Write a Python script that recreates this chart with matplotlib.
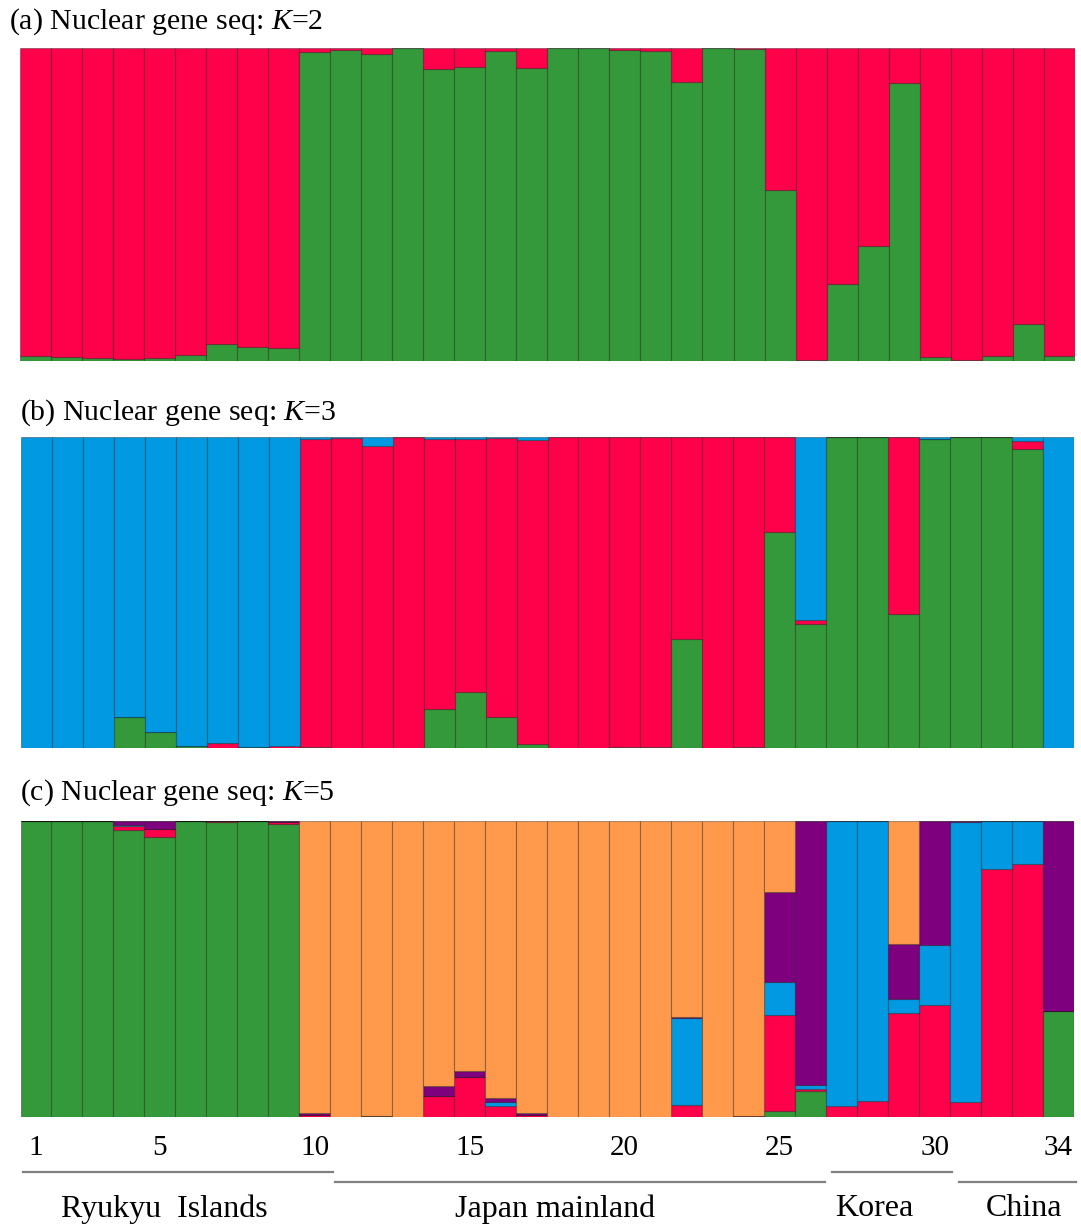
import numpy as np
import matplotlib
matplotlib.use("Agg")
import matplotlib.pyplot as plt

# Individuals 1..34 and their ancestry proportions per cluster
individuals = np.arange(1, 35)

# K=2 (stacked bottom -> top: green, red)
a_green = [0.016, 0.014, 0.008, 0.005, 0.010, 0.018, 0.053, 0.045, 0.040,
           0.987, 0.995, 0.980, 1.000, 0.934, 0.940, 0.992, 0.936,
           1.000, 1.000, 0.995, 0.992, 0.890, 1.000, 0.997, 0.545, 0.003,
           0.247, 0.367, 0.888, 0.013, 0.002, 0.016, 0.117, 0.016]
a_red = [0.984, 0.986, 0.992, 0.995, 0.990, 0.982, 0.947, 0.955, 0.960,
         0.013, 0.005, 0.020, 0.000, 0.066, 0.060, 0.008, 0.064,
         0.000, 0.000, 0.005, 0.008, 0.110, 0.000, 0.003, 0.455, 0.997,
         0.753, 0.633, 0.112, 0.987, 0.998, 0.984, 0.883, 0.984]

# K=3 (bottom -> top: green, red, blue)
b_green = [0, 0, 0, 0.100, 0.050, 0.007, 0, 0.004, 0,
           0.003, 0, 0, 0, 0.127, 0.180, 0.100, 0.013,
           0, 0, 0.003, 0.004, 0.352, 0, 0.002, 0.693, 0.400,
           1.000, 1.000, 0.430, 0.995, 1.000, 1.000, 0.960, 0]
b_red = [0, 0, 0, 0, 0, 0, 0.015, 0, 0.005,
         0.992, 0.997, 0.970, 1.000, 0.868, 0.815, 0.897, 0.977,
         1.000, 1.000, 0.997, 0.996, 0.648, 1.000, 0.998, 0.307, 0.010,
         0, 0, 0.570, 0, 0, 0, 0.027, 0]
b_blue = [1.000, 1.000, 1.000, 0.900, 0.950, 0.993, 0.985, 0.996, 0.995,
          0.005, 0.003, 0.030, 0, 0.005, 0.005, 0.003, 0.010,
          0, 0, 0, 0, 0, 0, 0, 0, 0.590,
          0, 0, 0, 0.005, 0, 0, 0.013, 1.000]

# K=5 (bottom -> top: green, red, blue, purple, orange)
c_green = [1.000, 1.000, 1.000, 0.971, 0.947, 1.000, 0.997, 1.000, 0.989,
           0, 0, 0.004, 0, 0, 0, 0, 0,
           0, 0, 0, 0, 0, 0, 0, 0.021, 0.087,
           0, 0, 0, 0, 0, 0, 0, 0.357]
c_red = [0, 0, 0, 0.013, 0.025, 0, 0.002, 0, 0.006,
         0.008, 0, 0, 0, 0.070, 0.134, 0.036, 0.006,
         0, 0, 0, 0, 0.040, 0, 0.003, 0.322, 0.006,
         0.036, 0.053, 0.352, 0.377, 0.050, 0.837, 0.856, 0]
c_blue = [0, 0, 0, 0.004, 0, 0, 0, 0, 0,
          0, 0, 0, 0, 0, 0, 0.015, 0,
          0, 0, 0, 0, 0.293, 0, 0, 0.113, 0.015,
          0.964, 0.947, 0.048, 0.204, 0.945, 0.163, 0.144, 0]
c_purple = [0, 0, 0, 0.012, 0.028, 0, 0.001, 0, 0.005,
            0.005, 0, 0, 0, 0.034, 0.023, 0.013, 0.008,
            0, 0, 0, 0, 0.006, 0, 0, 0.303, 0.892,
            0, 0, 0.183, 0.419, 0.005, 0, 0, 0.643]
c_orange = [0, 0, 0, 0, 0, 0, 0, 0, 0,
            0.987, 1.000, 0.996, 1.000, 0.896, 0.843, 0.936, 0.986,
            1.000, 1.000, 1.000, 1.000, 0.661, 1.000, 0.997, 0.241, 0,
            0, 0, 0.417, 0, 0, 0, 0, 0]

tick_labels = ["1", "5", "10", "15", "20", "25", "30", "34"]
tick_positions = [1, 5, 10, 15, 20, 25, 30, 34]

group_names = ["Ryukyu  Islands", "Japan mainland", "Korea", "China"]
group_first = [1, 11, 27, 31]
group_last = [10, 26, 30, 34]

GREEN = "#33993a"
RED = "#ff004b"
BLUE = "#0099e2"
PURPLE = "#7f007f"
ORANGE = "#ff9a4c"

panels = [
    ("(a) Nuclear gene seq: ", "2", [a_green, a_red], [GREEN, RED]),
    ("(b) Nuclear gene seq: ", "3", [b_green, b_red, b_blue], [GREEN, RED, BLUE]),
    ("(c) Nuclear gene seq: ", "5", [c_green, c_red, c_blue, c_purple, c_orange],
     [GREEN, RED, BLUE, PURPLE, ORANGE]),
]

plt.rcParams["font.family"] = ["Liberation Serif", "DejaVu Serif"]
plt.rcParams["mathtext.fontset"] = "custom"
plt.rcParams["mathtext.rm"] = "Liberation Serif"
plt.rcParams["mathtext.it"] = "Liberation Serif:italic"

W, H = 1081, 1230
fig = plt.figure(figsize=(W / 100, H / 100), dpi=100)

# panel boxes in pixels: left, top, right, bottom
boxes = [(19.5, 48, 1075, 361), (21, 437, 1074, 748), (20.5, 821, 1074, 1117)]
title_pos = [(9, 22), (20, 413), (20, 793)]

edge = (0, 0, 0, 0.33)
for (prefix, k, series, colors), (l, t, r, b), (tx, ty) in zip(panels, boxes, title_pos):
    ax = fig.add_axes([l / W, 1 - b / H, (r - l) / W, (b - t) / H])
    bottom = np.zeros(len(individuals))
    for vals, col in zip(series, colors):
        vals = np.asarray(vals, dtype=float)
        ax.bar(individuals, vals, width=1.0, bottom=bottom, color=col,
               edgecolor=edge, linewidth=0.8)
        bottom += vals
    ax.set_xlim(0.5, 34.5)
    ax.set_ylim(0, 1)
    ax.set_xticks([])
    ax.set_yticks([])
    for s in ax.spines.values():
        s.set_visible(False)
    fig.text(tx / W, 1 - ty / H,
             prefix + r"$\mathit{K}$" + "=" + k,
             fontsize=21.5, ha="left", va="center")

# individual numbers and regional groupings under the last panel
axc = fig.axes[-1]
for pos, lab in zip(tick_positions, tick_labels):
    axc.annotate(lab, xy=(pos, 0), xycoords="data",
                 xytext=(0, -22.5), textcoords="offset points",
                 ha="center", va="center", fontsize=21, annotation_clip=False)

line_y = [1172, 1182, 1172, 1182]
line_pad = [(0.08, 0.10), (0.16, -0.05), (0.18, 0.05), (0.30, 0.07)]
label_x = [5.15, 17.76, 28.05, 32.9]
trans = axc.get_xaxis_transform()
for name, f, lst, ly, (p0, p1), lx in zip(group_names, group_first, group_last,
                                         line_y, line_pad, label_x):
    x0 = f - 0.5 + p0
    x1 = lst + 0.5 + p1
    yfrac = -(ly - 1117) / (1117 - 821)
    axc.plot([x0, x1], [yfrac, yfrac], transform=trans, color="#808080",
             linewidth=1.6, clip_on=False)
    ylab = -(1209 - 1117) / (1117 - 821)
    axc.text(lx, ylab, name, transform=trans, ha="center", va="center",
             fontsize=23, clip_on=False)

fig.savefig("out.png", dpi=100, facecolor="white")
